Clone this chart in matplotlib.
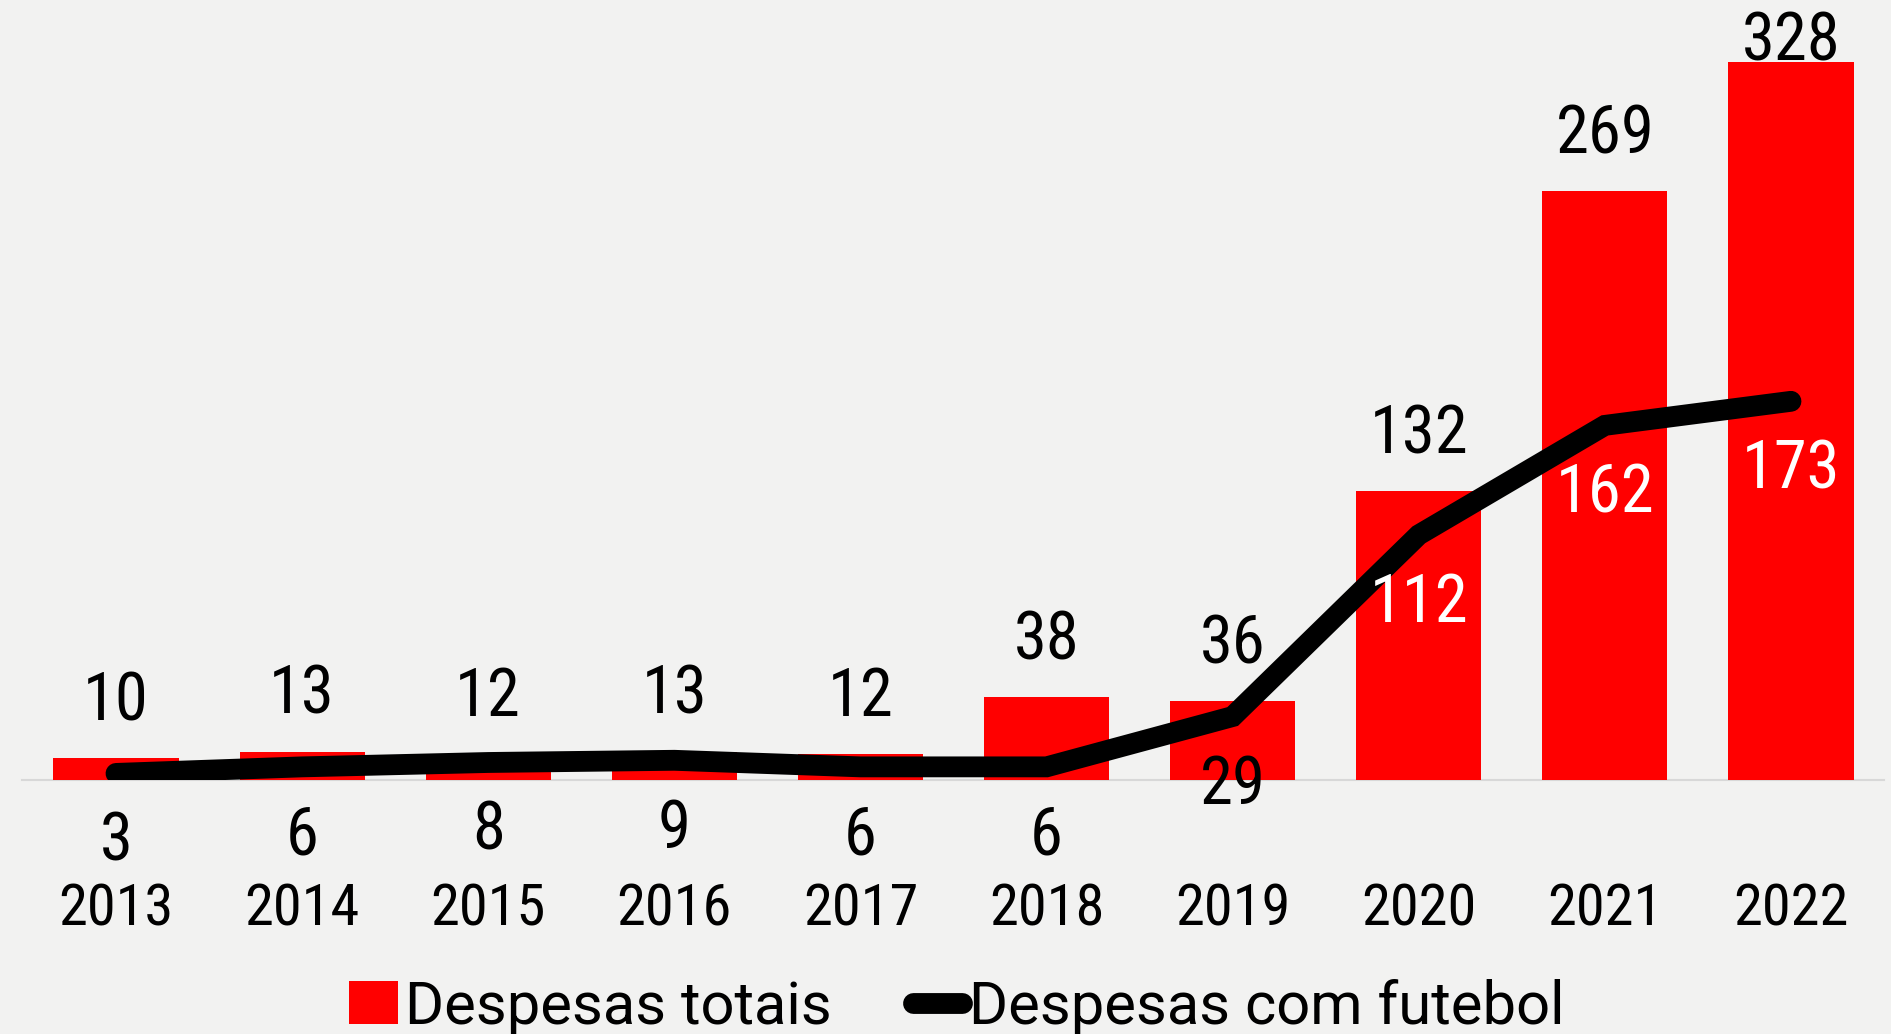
import matplotlib
matplotlib.use("Agg")
import matplotlib.pyplot as plt
from matplotlib.patches import Patch
from matplotlib.lines import Line2D
from matplotlib import font_manager

years = ["2013", "2014", "2015", "2016", "2017", "2018", "2019", "2020", "2021", "2022"]
total = [10, 13, 12, 13, 12, 38, 36, 132, 269, 328]
futebol = [3, 6, 8, 9, 6, 6, 29, 112, 162, 173]
legend_labels = ["Despesas totais", "Despesas com futebol"]

avail = {f.name for f in font_manager.fontManager.ttflist}
FAM = [f for f in ["Roboto Condensed", "Roboto", "DejaVu Sans"] if f in avail]
LFAM = [f for f in ["Roboto", "DejaVu Sans"] if f in avail]
plt.rcParams["font.family"] = FAM
plt.rcParams["font.weight"] = "normal"

W, H, DPI = 1891, 1034, 100
fig = plt.figure(figsize=(W / DPI, H / DPI), dpi=DPI, facecolor="#f2f2f1")
base_px = 780
ax = fig.add_axes([0, (H - base_px) / H, 1, base_px / H])
ax.set_facecolor("none")

x = list(range(len(years)))
ax.bar(x, total, width=0.672, color="#ff0000", zorder=2)
ax.plot(x, futebol, color="black", lw=15, solid_capstyle="round",
        solid_joinstyle="miter", zorder=3)

# axis spans 22..1884 px; centers at 116 + 186.1*i
ax.set_xlim(-116 / 186.1, 9 + (1891 - 1791) / 186.1)
ax.set_ylim(0, base_px / 2.189)
ax.plot([(22 - 116) / 186.1, 9 + (1884 - 1791) / 186.1], [0, 0],
        color="#d8d8d8", lw=1.5, zorder=1, clip_on=False)

for i, v in enumerate(total):
    off = 14 if v == max(total) else 40
    ax.annotate(str(v), (i, v), xytext=(0, off), textcoords="offset points",
                ha="center", va="center", fontsize=48, color="black", zorder=4)

for i, v in enumerate(futebol):
    col = "white" if v > 100 else "black"
    ax.annotate(str(v), (i, v), xytext=(0, -50), textcoords="offset points",
                ha="center", va="center", fontsize=48, color=col, zorder=4)

for s in ["top", "right", "left", "bottom"]:
    ax.spines[s].set_visible(False)
ax.set_yticks([])
ax.set_xticks(x)
ax.set_xticklabels(years, fontsize=42)
ax.tick_params(axis="x", length=0, pad=74)

handles = [Patch(facecolor="#ff0000", edgecolor="none"),
           Line2D([0], [0], color="black", lw=15, solid_capstyle="round")]
fig.legend(handles, legend_labels, loc="center", bbox_to_anchor=(0.506, 0.026),
           ncol=2, frameon=False, handlelength=0.82,
           handletextpad=0.12, columnspacing=1.35, borderpad=0, handleheight=0.72,
           prop={"family": LFAM, "size": 43})

fig.savefig("out.png", dpi=DPI, facecolor=fig.get_facecolor())
